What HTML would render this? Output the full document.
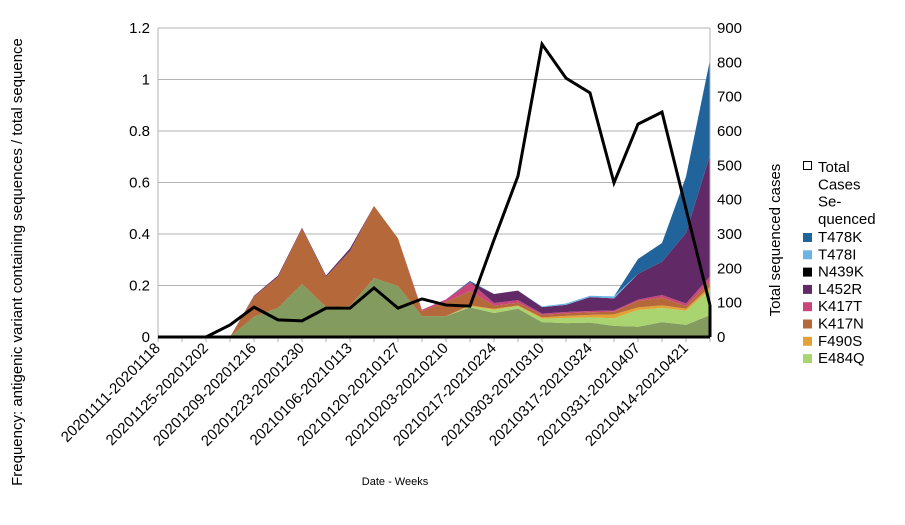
<!DOCTYPE html>
<html><head><meta charset="utf-8"><style>
html,body{margin:0;padding:0;background:#fff;}
svg text{font-family:"Liberation Sans",sans-serif;fill:#000;}
</style></head><body>
<svg id="chart" width="905" height="520" xmlns="http://www.w3.org/2000/svg">
<g id="grid"></g>
<g id="areas"></g>
<g id="axes"></g>
<g id="lineg"></g>
<g id="xlabels"></g>
<text x="22" y="262" font-size="15" text-anchor="middle" transform="rotate(-90 22 262)">Frequency: antigenic variant containing sequences / total sequence</text>
<text x="780" y="240" font-size="15" text-anchor="middle" transform="rotate(-90 780 240)">Total sequenced cases</text>
<text x="395" y="485" font-size="11" text-anchor="middle">Date - Weeks</text>
<g id="legend"></g>
</svg>
<script>
const categories = ["20201111-20201118","20201118-20201125","20201125-20201202","20201202-20201209","20201209-20201216","20201216-20201223","20201223-20201230","20201230-20210106","20210106-20210113","20210113-20210120","20210120-20210127","20210127-20210203","20210203-20210210","20210210-20210217","20210217-20210224","20210224-20210303","20210303-20210310","20210310-20210317","20210317-20210324","20210324-20210331","20210331-20210407","20210407-20210414","20210414-20210421","20210421-20210428"];
const totalCases = [0,0,0,35,87,50,47,84,84,143,84,111,93,90,283,469,853,754,711,449,620,655,373,93];
const other  = [0,0,0,0,0.079,0.113,0.206,0.117,0.12,0.229,0.198,0.081,0.081,0.115,0.093,0.11,0.058,0.054,0.056,0.043,0.04,0.058,0.047,0.085];
const e484q  = [0,0,0,0,0,0,0,0,0,0,0,0,0,0.005,0.013,0.01,0.013,0.02,0.02,0.03,0.065,0.055,0.055,0.1];
const f490s  = [0,0,0,0,0,0,0,0,0,0,0,0,0,0.003,0.003,0.003,0.005,0.008,0.01,0.015,0.01,0.01,0.008,0.01];
const k417n  = [0,0,0,0,0.078,0.121,0.216,0.117,0.214,0.28,0.185,0.02,0.055,0.055,0.013,0.01,0.01,0.01,0.01,0.01,0.025,0.03,0.01,0.02];
const k417t  = [0,0,0,0,0,0,0,0,0,0,0,0.005,0.01,0.035,0.01,0.01,0.005,0.005,0.005,0.005,0.005,0.01,0.01,0.02];
const l452r  = [0,0,0,0,0.003,0.005,0.003,0.005,0.01,0,0,0,0,0,0.035,0.037,0.025,0.028,0.054,0.047,0.1,0.129,0.274,0.472];
const n439k  = [0,0,0,0,0,0,0,0,0,0,0,0,0,0,0,0,0,0,0,0,0,0,0,0];
const t478i  = [0,0,0,0,0,0,0,0,0,0,0,0,0,0,0,0,0.003,0.005,0.005,0.008,0,0,0,0];
const t478k  = [0,0,0,0,0,0,0,0,0,0,0,0,0,0.005,0,0,0,0,0,0,0.058,0.073,0.219,0.369];
const leftTicks = ["0","0.2","0.4","0.6","0.8","1","1.2"];
const rightTicks = ["0","100","200","300","400","500","600","700","800","900"];

const NS="http://www.w3.org/2000/svg";
const X0=158,X1=710,Y0=337,Y1=28;
const xs=i=>X0+i*(X1-X0)/(categories.length-1);
const yL=v=>Y0-v/1.2*(Y0-Y1);
const yR=v=>Y0-v/900*(Y0-Y1);
function mk(tag,parent,attrs){const e=document.createElementNS(NS,tag);for(const k in attrs)e.setAttribute(k,attrs[k]);parent.appendChild(e);return e;}
const grid=document.getElementById('grid'),axes=document.getElementById('axes');
leftTicks.forEach((t,i)=>{
  const v=parseFloat(t),y=yL(v);
  const l=mk('line',grid,{x1:X0,x2:X1,y1:y,y2:y,stroke:'#b3b3b3','stroke-width':1});
  
  
  const tx=mk('text',axes,{x:150,y:y+5,'font-size':15,'text-anchor':'end'});
  tx.textContent=t;
  
  
});
rightTicks.forEach(t=>{
  const y=yR(parseFloat(t));
  const tx=mk('text',axes,{x:717,y:y+5,'font-size':15,'text-anchor':'start'});
  tx.textContent=t;
  
  
});
mk('line',axes,{x1:X0,x2:X0,y1:Y1,y2:Y0,stroke:'#b3b3b3'});
mk('line',axes,{x1:X1,x2:X1,y1:Y1,y2:Y0,stroke:'#b3b3b3'});
categories.forEach((c,i)=>{mk('line',axes,{x1:xs(i),x2:xs(i),y1:Y0,y2:Y0+5,stroke:'#b3b3b3'});});

const series=[["Other",other,"#839b5e"],["E484Q",e484q,"#a9d46f"],["F490S",f490s,"#e2a236"],["K417N",k417n,"#b5683a"],["K417T",k417t,"#c8467a"],["L452R",l452r,"#612a66"],["N439K",n439k,"#000000"],["T478I",t478i,"#6cb4e4"],["T478K",t478k,"#21649c"]];
const areas=document.getElementById('areas');
let base=categories.map(()=>0);
series.forEach(([name,vals,col])=>{
  const top=base.map((b,i)=>b+vals[i]);
  let d='M'+categories.map((c,i)=>xs(i)+','+yL(top[i])).join(' L');
  for(let i=categories.length-1;i>=0;i--)d+=' L'+xs(i)+','+yL(base[i]);
  const p=mk('path',areas,{d:d+'Z',fill:col});
  
  
  base=top;
});
mk('line',axes,{x1:X0,x2:X1,y1:Y0,y2:Y0,stroke:'#000','stroke-width':3});
const lg=document.getElementById('lineg');
const pl=mk('polyline',lg,{points:totalCases.map((v,i)=>xs(i)+','+yR(v)).join(' '),fill:'none',stroke:'#000','stroke-width':3,'stroke-linejoin':'miter'});


mk('line',lg,{x1:X1,x2:X1,y1:yR(totalCases[totalCases.length-1]),y2:Y0,stroke:'#000','stroke-width':3});

const xl=document.getElementById('xlabels');
categories.forEach((c,i)=>{
  if(i%2)return;
  const x=xs(i)+3,y=Y0+12;
  const t=mk('text',xl,{x:x,y:y,'font-size':15,'text-anchor':'end',transform:`rotate(-45 ${x} ${y})`});
  t.textContent=c;
  
  
});

const leg=document.getElementById('legend');
const r0=mk('rect',leg,{x:803.5,y:161.5,width:8,height:8,fill:'#fff',stroke:'#000'});


["Total","Cases","Se-","quenced"].forEach((w,i)=>{
  const t=mk('text',leg,{x:818,y:172+i*17.3,'font-size':15});t.textContent=w;
  
  
});
const legendItems=[["T478K","#21649c"],["T478I","#6cb4e4"],["N439K","#000000"],["L452R","#612a66"],["K417T","#c8467a"],["K417N","#b5683a"],["F490S","#e2a236"],["E484Q","#a9d46f"]];
legendItems.forEach(([n,c],i)=>{
  const y=242+i*17.3;
  const r=mk('rect',leg,{x:803,y:y-9,width:9,height:9,fill:c});
  
  
  const t=mk('text',leg,{x:818,y:y,'font-size':15});t.textContent=n;
  
  
});
</script>
</body></html>
